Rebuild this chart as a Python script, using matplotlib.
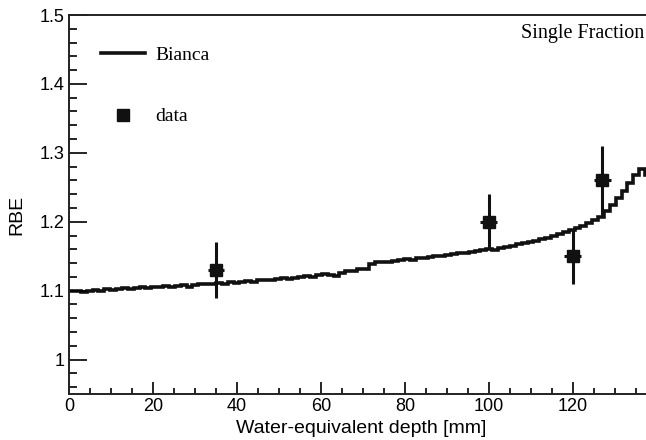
import numpy as np
import matplotlib.pyplot as plt
from matplotlib.lines import Line2D
from matplotlib.ticker import MultipleLocator

# Bianca model, histogram with 1.4 mm bins (0 - 140 mm)
bin_width = 1.4
rbe_bianca = [
    1.099, 1.100, 1.098, 1.100, 1.101, 1.100, 1.102, 1.101, 1.103, 1.104,
    1.102, 1.104, 1.105, 1.104, 1.106, 1.105, 1.107, 1.106, 1.107, 1.108,
    1.106, 1.108, 1.109, 1.110, 1.109, 1.111, 1.110, 1.112, 1.111, 1.113,
    1.114, 1.113, 1.115, 1.116, 1.115, 1.117, 1.118, 1.117, 1.119, 1.120,
    1.121, 1.120, 1.122, 1.124, 1.123, 1.121, 1.126, 1.128, 1.129, 1.131,
    1.132, 1.138, 1.141, 1.142, 1.141, 1.143, 1.144, 1.146, 1.145, 1.147,
    1.148, 1.149, 1.150, 1.151, 1.152, 1.153, 1.155, 1.154, 1.156, 1.158,
    1.159, 1.160, 1.159, 1.162, 1.164, 1.165, 1.167, 1.169, 1.170, 1.172,
    1.175, 1.177, 1.180, 1.182, 1.185, 1.188, 1.191, 1.194, 1.198, 1.202,
    1.207, 1.215, 1.224, 1.234, 1.244, 1.256, 1.268, 1.276, 1.268, 1.262,
]
depth_edges = np.arange(len(rbe_bianca) + 1) * bin_width

# measured points
data_depth = [35, 100, 120, 127]
data_rbe = [1.13, 1.20, 1.15, 1.26]
data_err = [0.04, 0.04, 0.04, 0.05]

x_ticks = [0, 20, 40, 60, 80, 100, 120]
y_ticks = [1.0, 1.1, 1.2, 1.3, 1.4, 1.5]
y_ticklabels = ['1', '1.1', '1.2', '1.3', '1.4', '1.5']

plt.rcParams['font.family'] = ['Liberation Sans', 'DejaVu Sans']

fig = plt.figure(figsize=(6.46, 4.40), dpi=100)
ax = fig.add_axes([0.1068, 0.1045, 0.910, 0.8614])

ax.stairs(rbe_bianca, depth_edges, baseline=None, color='#111111', lw=2.6)
ax.errorbar(data_depth, data_rbe, yerr=data_err, xerr=2, fmt='s', ms=9,
            color='#111111', elinewidth=2.2, capsize=0)

ax.set_xlim(0, 140)
ax.set_ylim(0.95, 1.5)

ax.set_xticks(x_ticks)
ax.xaxis.set_minor_locator(MultipleLocator(5))
ax.set_yticks(y_ticks)
ax.set_yticklabels(y_ticklabels)
ax.yaxis.set_minor_locator(MultipleLocator(0.02))

ax.tick_params(axis='x', which='major', direction='in', length=8.6, width=1.2,
               labelsize=13, pad=3, top=False)
ax.tick_params(axis='x', which='minor', direction='in', length=4.3, width=1.2, top=False)
ax.tick_params(axis='y', which='major', direction='in', length=13, width=1.2,
               labelsize=13, pad=3, right=False)
ax.tick_params(axis='y', which='minor', direction='in', length=6, width=1.2, right=False)

for side in ['left', 'bottom', 'top']:
    ax.spines[side].set_linewidth(1.4)
    ax.spines[side].set_color('#222222')
ax.spines['right'].set_visible(False)

ax.set_xlabel('Water-equivalent depth [mm]', fontsize=14)
ax.set_ylabel('RBE', fontsize=14)
ax.xaxis.set_label_coords(0.497, -0.068)
ax.yaxis.set_label_coords(-0.075, 0.472)

handles = [Line2D([], [], color='#111111', lw=2.6),
           Line2D([], [], color='#111111', ls='none', marker='s', ms=9)]
ax.legend(handles, ['Bianca', 'data'], loc='upper left', bbox_to_anchor=(0.054, 0.917),
          frameon=False, borderpad=0, borderaxespad=0, handlelength=2.3,
          handletextpad=0.5, labelspacing=2.25,
          prop={'family': 'Liberation Serif', 'size': 14})

ax.text(0.978, 0.9525, 'Single Fraction', transform=ax.transAxes, ha='right', va='center',
        family='Liberation Serif', fontsize=14.5)

fig.savefig('out.png', dpi=100)
